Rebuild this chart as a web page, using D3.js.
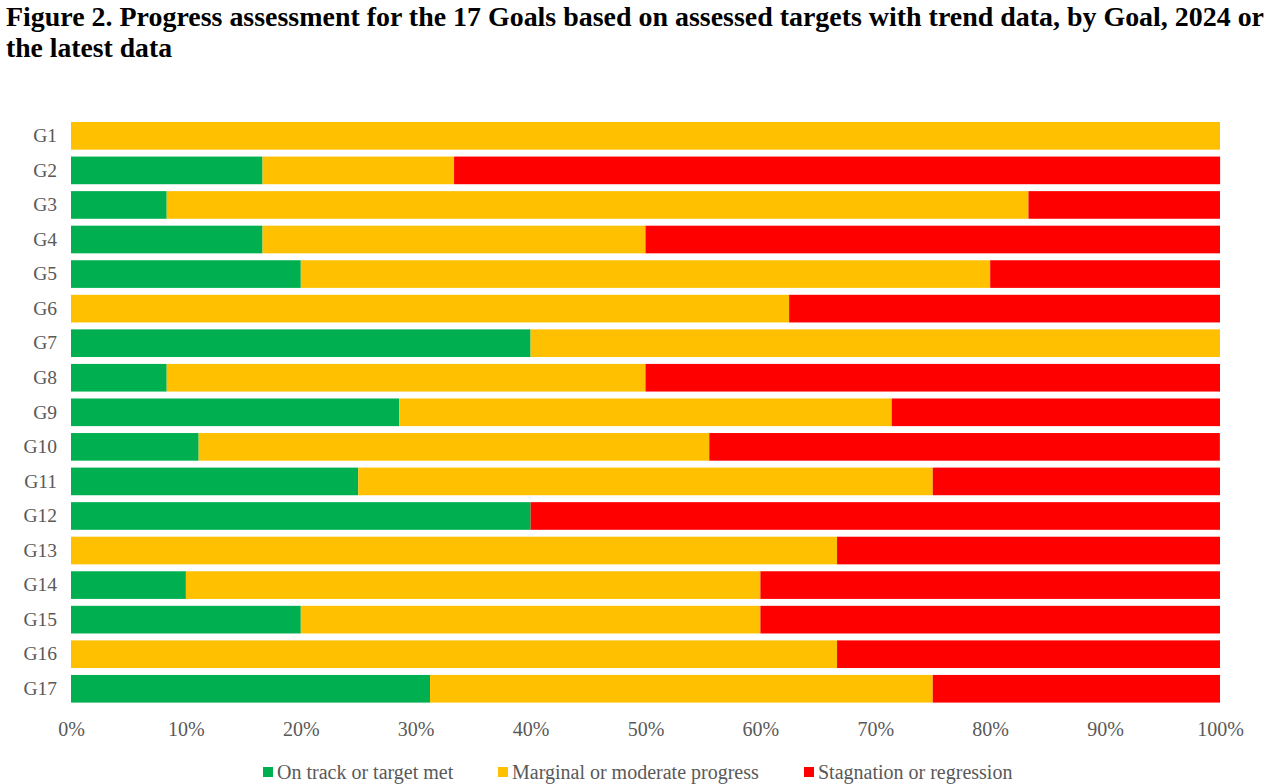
<!DOCTYPE html>
<html>
<head>
<meta charset="utf-8">
<script src="https://cdn.jsdelivr.net/npm/d3@7"></script>
<style>
  body { margin: 0; background: #fff; }
  svg { display: block; }
</style>
</head>
<body>
<script>
const goals = ["G1","G2","G3","G4","G5","G6","G7","G8","G9","G10","G11","G12","G13","G14","G15","G16","G17"];
const onTrack    = [0, 16.67, 8.33, 16.67, 20, 0, 40, 8.33, 28.57, 11.11, 25, 40, 0, 10, 20, 0, 31.25];
const marginal   = [100, 16.67, 75, 33.33, 60, 62.5, 60, 41.67, 42.86, 44.44, 50, 0, 66.67, 50, 40, 66.67, 43.75];
const stagnation = [0, 66.67, 16.67, 50, 20, 37.5, 0, 50, 28.57, 44.44, 25, 60, 33.33, 40, 40, 33.33, 25];
const seriesNames = ["On track or target met", "Marginal or moderate progress", "Stagnation or regression"];
const seriesColors = ["#00B050", "#FFC000", "#FF0000"];
const xTicks = [0,10,20,30,40,50,60,70,80,90,100];

const width = 1270, height = 784;
const font = "'Liberation Serif', 'Times New Roman', serif";
const svg = d3.select("body").append("svg")
    .attr("width", width)
    .attr("height", height);

// title
const title = svg.append("text")
    .attr("font-family", font)
    .attr("font-weight", "bold")
    .attr("font-size", 27)
    .attr("fill", "#000");
title.append("tspan").attr("x", 6).attr("y", 26)
    .attr("textLength", 1258).attr("lengthAdjust", "spacingAndGlyphs")
    .text("Figure 2. Progress assessment for the 17 Goals based on assessed targets with trend data, by Goal, 2024 or");
title.append("tspan").attr("x", 6).attr("y", 57)
    .attr("textLength", 166).attr("lengthAdjust", "spacingAndGlyphs")
    .text("the latest data");

const rows = goals.map((g, i) => ({goal: g, on: onTrack[i], mid: marginal[i], stag: stagnation[i]}));
const stack = d3.stack().keys(["on","mid","stag"])(rows);

const x = d3.scaleLinear().domain([0, 100]).range([71, 1220]);
const y = d3.scaleBand().domain(goals).range([115.1, 709.5]).padding(0.2);

svg.append("g").selectAll("g")
    .data(stack)
    .join("g")
    .attr("fill", (d, i) => seriesColors[i])
    .selectAll("rect")
    .data(d => d)
    .join("rect")
    .attr("x", d => x(d[0]))
    .attr("y", d => y(d.data.goal))
    .attr("width", d => Math.max(0, x(d[1]) - x(d[0])))
    .attr("height", y.bandwidth());

const yAxis = svg.append("g")
    .attr("transform", "translate(71,0)")
    .call(d3.axisLeft(y).tickSize(0).tickPadding(14));
yAxis.select(".domain").remove();
yAxis.selectAll("text")
    .attr("font-family", font)
    .attr("font-size", 19.5)
    .attr("fill", "#595959");

const xAxis = svg.append("g")
    .attr("transform", "translate(0,712)")
    .call(d3.axisBottom(x).tickValues(xTicks).tickSize(0).tickPadding(10).tickFormat(d => d + "%"));
xAxis.select(".domain").remove();
xAxis.selectAll("text")
    .attr("font-family", font)
    .attr("font-size", 20)
    .attr("fill", "#595959");

// legend
const legendX = [263, 498, 804];
const legend = svg.append("g").selectAll("g")
    .data(seriesNames)
    .join("g")
    .attr("transform", (d, i) => `translate(${legendX[i]},772)`);
legend.append("rect")
    .attr("x", 0).attr("y", -5)
    .attr("width", 10).attr("height", 10)
    .attr("fill", (d, i) => seriesColors[i]);
legend.append("text")
    .attr("x", 14).attr("y", 7)
    .attr("font-family", font)
    .attr("font-size", 20)
    .attr("fill", "#595959")
    .text(d => d);
</script>
</body>
</html>
